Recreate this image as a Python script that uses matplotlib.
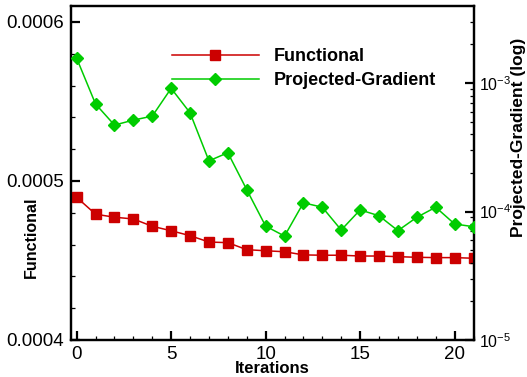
import matplotlib
matplotlib.use("Agg")
import matplotlib.pyplot as plt
from matplotlib.ticker import (MultipleLocator, FormatStrFormatter, LogLocator,
                               LogFormatterSciNotation, NullFormatter)

# Optimisation history
iterations = list(range(22))
functional = [0.0004897, 0.0004791, 0.0004772, 0.0004761, 0.0004715, 0.0004687,
              0.0004656, 0.0004616, 0.0004612, 0.0004568, 0.0004561, 0.0004555,
              0.0004535, 0.0004533, 0.0004533, 0.0004528, 0.0004528, 0.0004524,
              0.0004520, 0.0004518, 0.0004518, 0.0004514]
projected_gradient = [1.56e-3, 6.87e-4, 4.71e-4, 5.15e-4, 5.53e-4, 9.1e-4,
                      5.87e-4, 2.48e-4, 2.87e-4, 1.48e-4, 7.7e-5, 6.44e-5,
                      1.17e-4, 1.08e-4, 7.18e-5, 1.03e-4, 9.27e-5, 7.1e-5,
                      9.02e-5, 1.08e-4, 8.0e-5, 7.62e-5]
series_names = ["Functional", "Projected-Gradient"]
x_label = "Iterations"
y_label_left = "Functional"
y_label_right = "Projected-Gradient (log)"

plt.rcParams["font.family"] = ["Liberation Sans", "DejaVu Sans"]
plt.rcParams["mathtext.default"] = "regular"

RED = "#cc0000"
GREEN = "#00cc00"
SPINE_W = 1.6

fig = plt.figure(figsize=(5.27, 3.77), dpi=100)
ax = fig.add_axes([71 / 527, 37 / 377, 402.5 / 527, 334 / 377])
ax2 = ax.twinx()

l1, = ax.plot(iterations, functional, color=RED, lw=1.1, marker="s",
              markersize=7, markerfacecolor=RED, markeredgecolor=RED,
              label=series_names[0], zorder=3)
l2, = ax2.plot(iterations, projected_gradient, color=GREEN, lw=1.1, marker="D",
               markersize=6.3, markerfacecolor=GREEN, markeredgecolor=GREEN,
               label=series_names[1], zorder=3)

# x axis
ax.set_xlim(-0.3, 21.0)
ax.xaxis.set_major_locator(MultipleLocator(5))
ax.xaxis.set_minor_locator(MultipleLocator(1))

# left (linear) axis
ax.set_ylim(0.0004, 0.00061)
ax.yaxis.set_major_locator(MultipleLocator(0.0001))
ax.yaxis.set_minor_locator(MultipleLocator(0.00002))
ax.yaxis.set_major_formatter(FormatStrFormatter("%.4f"))

# right (log) axis
ax2.set_yscale("log")
ax2.set_ylim(1e-5, 10 ** -2.4)
ax2.yaxis.set_major_locator(LogLocator(base=10, numticks=10))
ax2.yaxis.set_minor_locator(LogLocator(base=10, subs=range(2, 10), numticks=10))
ax2.yaxis.set_major_formatter(LogFormatterSciNotation())
ax2.yaxis.set_minor_formatter(NullFormatter())

for a in (ax, ax2):
    for s in a.spines.values():
        s.set_linewidth(SPINE_W)
        s.set_color("black")

ax.tick_params(axis="both", which="both", direction="in", top=False, right=False)
ax.tick_params(axis="both", which="major", length=6.5, width=SPINE_W,
               labelsize=13.5, pad=5)
ax.tick_params(axis="both", which="minor", length=3.2, width=0.9)
ax.tick_params(axis="x", which="major", pad=4)
ax2.tick_params(axis="y", which="both", direction="in")
ax2.tick_params(axis="y", which="major", length=6.5, width=SPINE_W,
                labelsize=11.5, pad=4)
ax2.tick_params(axis="y", which="minor", length=3.2, width=0.9)

ax.set_xlabel(x_label, fontsize=12, fontweight="bold", labelpad=-1)
ax.set_ylabel(y_label_left, fontsize=11.5, fontweight="bold")
ax.yaxis.set_label_coords(-0.079, 0.308)
ax2.set_ylabel(y_label_right, fontsize=12.5, fontweight="bold")
ax2.yaxis.set_label_coords(1.092, 0.608)

leg = ax2.legend([l1, l2], series_names, loc="upper left",
                 bbox_to_anchor=(172 / 527, 1 - 48 / 377),
                 bbox_transform=fig.transFigure, frameon=False, borderpad=0,
                 borderaxespad=0, numpoints=1, handlelength=4.8,
                 handletextpad=0.85, labelspacing=0.38,
                 prop={"size": 13, "weight": "bold"})

fig.savefig("out.png", dpi=100)
